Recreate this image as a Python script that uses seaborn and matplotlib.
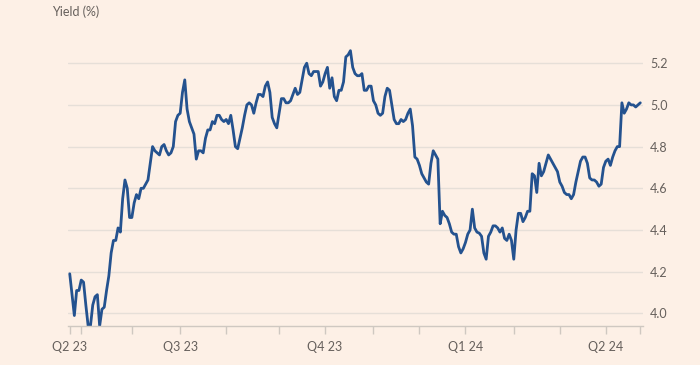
import numpy as np
import pandas as pd
import seaborn as sns
import matplotlib.pyplot as plt

# US bond market closing days in the window
holidays = ["2023-05-29", "2023-06-19", "2023-07-04", "2023-09-04", "2023-10-09",
            "2023-11-10", "2023-11-23", "2023-12-25", "2024-01-01", "2024-01-15",
            "2024-02-19", "2024-03-29"]
dates = pd.bdate_range("2023-04-24", "2024-04-22", freq="C", holidays=holidays)

# yields, one per trading day
yields = [
    4.19, 4.09, 3.99, 4.11, 4.11, 4.16, 4.15, 4.04, 3.94, 3.94,
    4.04, 4.08, 4.09, 3.94, 4.02, 4.03, 4.11, 4.18, 4.29, 4.35,
    4.35, 4.41, 4.39, 4.55, 4.64, 4.60, 4.46, 4.46, 4.53, 4.57,
    4.55, 4.60, 4.60, 4.62, 4.64, 4.72, 4.80, 4.78, 4.77, 4.76,
    4.80, 4.81, 4.78, 4.76, 4.77, 4.80, 4.92, 4.95, 4.96, 5.06,
    5.12, 4.98, 4.92, 4.89, 4.86, 4.74, 4.78, 4.78, 4.77, 4.84,
    4.88, 4.88, 4.92, 4.91, 4.95, 4.95, 4.93, 4.92, 4.93, 4.91,
    4.95, 4.88, 4.80, 4.79, 4.84, 4.89, 4.95, 5.00, 5.01, 5.00,
    4.96, 5.01, 5.05, 5.05, 5.04, 5.09, 5.11, 5.06, 4.94, 4.91,
    4.89, 4.96, 5.03, 5.03, 5.01, 5.01, 5.02, 5.05, 5.08, 5.05,
    5.06, 5.12, 5.18, 5.20, 5.15, 5.14, 5.16, 5.16, 5.16, 5.09,
    5.11, 5.15, 5.18, 5.08, 5.13, 5.04, 5.02, 5.07, 5.07, 5.11,
    5.23, 5.24, 5.26, 5.18, 5.15, 5.14, 5.14, 5.15, 5.07, 5.07,
    5.09, 5.09, 5.02, 5.00, 4.96, 4.95, 4.96, 5.04, 5.08, 5.07,
    5.00, 4.93, 4.91, 4.91, 4.93, 4.92, 4.93, 4.96, 4.98, 4.90,
    4.75, 4.74, 4.71, 4.67, 4.65, 4.63, 4.62, 4.72, 4.78, 4.76,
    4.74, 4.43, 4.49, 4.47, 4.46, 4.43, 4.39, 4.38, 4.38, 4.32,
    4.29, 4.31, 4.34, 4.38, 4.40, 4.50, 4.41, 4.39, 4.385, 4.37,
    4.29, 4.26, 4.37, 4.39, 4.42, 4.42, 4.41, 4.39, 4.41, 4.36,
    4.35, 4.38, 4.35, 4.26, 4.40, 4.48, 4.48, 4.44, 4.46, 4.49,
    4.49, 4.67, 4.66, 4.58, 4.72, 4.66, 4.68, 4.72, 4.76, 4.74,
    4.72, 4.70, 4.68, 4.63, 4.61, 4.58, 4.57, 4.57, 4.55, 4.57,
    4.63, 4.68, 4.73, 4.75, 4.75, 4.72, 4.65, 4.64, 4.64, 4.63,
    4.61, 4.62, 4.70, 4.73, 4.74, 4.71, 4.75, 4.78, 4.80, 4.80,
    5.01, 4.96, 4.98, 5.01, 5.00, 5.00, 4.99, 5.00, 5.01,
]
y_ticks = [4.0, 4.2, 4.4, 4.6, 4.8, 5.0, 5.2]

df = pd.DataFrame({"date": dates, "yield": yields})
df["i"] = np.arange(len(df))
last = df["i"].iloc[-1]

# ticks at first trading day of each month + last day, quarter labels
month_first = df.groupby(df["date"].dt.to_period("M"))["i"].min()
tick_pos = sorted(set(month_first.tolist() + [last]))
tick_lab = []
for p in tick_pos:
    d = df["date"].iloc[p]
    if p in month_first.values and d.month in (1, 4, 7, 10):
        tick_lab.append(f"Q{(d.month - 1) // 3 + 1} {d:%y}")
    else:
        tick_lab.append("")

bg = "#fdf0e6"
grid_c = "#e6dfd8"
txt_c = "#66605c"

sns.set_theme(style="white", rc={"figure.facecolor": bg, "axes.facecolor": bg})
plt.rcParams["font.family"] = ["Lato", "DejaVu Sans"]

fig = plt.figure(figsize=(7, 3.65), dpi=100)
ax = fig.add_axes([0.097, 0.107, 0.822, 0.777])

for y in y_ticks:
    ax.axhline(y, color=grid_c, lw=1, zorder=0)

sns.lineplot(data=df, x="i", y="yield", color="#24528f", lw=2, ax=ax)

ax.set_xlim(-0.8, last + 1.3)
ax.set_ylim(3.94, 5.30)
ax.yaxis.tick_right()
ax.set_yticks(y_ticks)
ax.set_yticklabels([f"{v:.1f}" for v in y_ticks])
ax.set_xticks(tick_pos)
ax.set_xticklabels(tick_lab)
ax.tick_params(axis="y", length=0, pad=5, labelsize=9, labelcolor=txt_c)
ax.tick_params(axis="x", bottom=True, length=6, width=1, color="#cfc8c1", pad=5,
               labelsize=9, labelcolor=txt_c)
ax.set_xlabel("")
ax.set_ylabel("")
for s in ["top", "left", "right"]:
    ax.spines[s].set_visible(False)
ax.spines["bottom"].set_color("#cfc8c1")
ax.spines["bottom"].set_linewidth(1)

fig.text(52 / 700, 1 - 12 / 365, "Yield (%)", fontsize=9, color=txt_c, va="center", ha="left")

fig.savefig("out.png", dpi=100, facecolor=bg)
